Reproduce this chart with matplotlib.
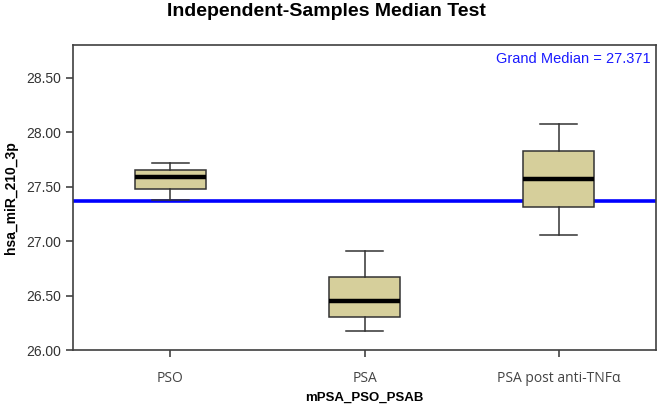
import matplotlib
matplotlib.use("Agg")
import matplotlib.pyplot as plt

# box summaries
groups = ["PSO", "PSA", "PSA post anti-TNF\u03b1"]
whislo = [27.38, 26.17, 27.06]
q1 = [27.476, 26.30, 27.31]
med = [27.586, 26.453, 27.568]
q3 = [27.648, 26.674, 27.823]
whishi = [27.715, 26.913, 28.077]
grand_median = 27.371
yticks = [26.00, 26.50, 27.00, 27.50, 28.00, 28.50]

plt.rcParams['font.family'] = ['Liberation Sans', 'DejaVu Sans']

fig = plt.figure(figsize=(6.57, 4.07), dpi=100)
ax = fig.add_axes([73/657, 1-350/407, (656-73)/657, (350-45)/407])

stats = []
for i in range(len(groups)):
    stats.append({'whislo': whislo[i], 'q1': q1[i], 'med': med[i],
                  'q3': q3[i], 'whishi': whishi[i], 'fliers': [], 'label': groups[i]})

ax.axhline(grand_median, color='#0000ff', lw=2.6, zorder=1)

ax.bxp(stats, positions=[1, 2, 3], widths=0.366, patch_artist=True, showfliers=False,
       boxprops=dict(facecolor='#d6cf9b', edgecolor='#333333', lw=1.1),
       medianprops=dict(color='black', lw=3.2),
       whiskerprops=dict(color='#333333', lw=1.1),
       capprops=dict(color='#333333', lw=1.1),
       capwidths=0.19, zorder=2)

ax.set_xlim(0.5, 3.5)
ax.set_ylim(26.0, 28.8)
ax.set_yticks(yticks)
ax.set_yticklabels(['%.2f' % v for v in yticks], fontsize=10, color='#333333')
ax.set_xticks([1, 2, 3])
ax.set_xticklabels(groups, fontsize=10, color='#444444', family=['Open Sans', 'DejaVu Sans'])
ax.tick_params(axis='both', direction='out', length=5, width=1.1, color='#333333')
ax.tick_params(axis='x', pad=10)
for s in ax.spines.values():
    s.set_color('#404040')
    s.set_linewidth(1.2)

ax.set_ylabel('hsa_miR_210_3p', fontsize=10, fontweight='bold', labelpad=6)
ax.set_xlabel('mPSA_PSO_PSAB', fontsize=9.5, fontweight='bold', labelpad=4)
ax.text(0.99, 0.955, 'Grand Median = 27.371', transform=ax.transAxes,
        ha='right', va='center', color='#1a1aff', fontsize=10.5)

fig.suptitle('Independent-Samples Median Test', fontsize=14, fontweight='bold',
             x=0.497, y=0.993)

fig.savefig('out.png', dpi=100)
